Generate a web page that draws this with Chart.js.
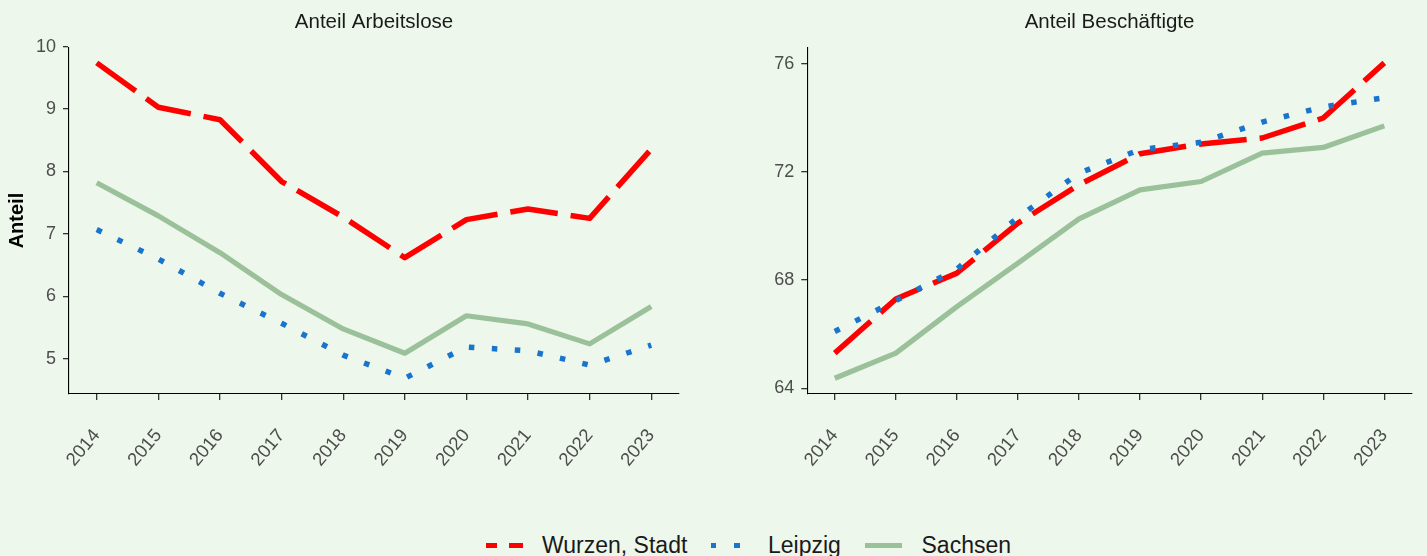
<!DOCTYPE html>
<html><head><meta charset="utf-8">
<script src="https://cdn.jsdelivr.net/npm/chart.js@4.4.1/dist/chart.umd.min.js"></script>
<style>
html,body{margin:0;padding:0;background:#EEF7EB;}
body{width:1427px;height:556px;position:relative;overflow:hidden;font-family:"Liberation Sans",Arial,sans-serif;}
#w1{position:absolute;left:0;top:0;width:700px;height:500px;}
#w2{position:absolute;left:718px;top:0;width:709px;height:500px;}
.key{position:absolute;top:543px;height:5px;}
.lbl{position:absolute;top:534px;font-size:23px;line-height:23px;color:#1a1a1a;white-space:nowrap;}
</style>
</head><body>
<div id="w1"><canvas id="c1"></canvas></div>
<div id="w2"><canvas id="c2"></canvas></div>
<div id="legend"></div>
<script>
const years = [2014,2015,2016,2017,2018,2019,2020,2021,2022,2023];
const seriesNames = ['Wurzen, Stadt','Leipzig','Sachsen'];
const arbWurzen  = [9.74,9.03,8.83,7.84,7.27,6.62,7.23,7.40,7.25,8.36];
const arbLeipzig = [7.07,6.60,6.05,5.57,5.06,4.69,5.19,5.13,4.90,5.22];
const arbSachsen = [7.82,7.29,6.70,6.03,5.48,5.09,5.69,5.56,5.24,5.84];
const besWurzen  = [65.30,67.30,68.26,70.11,71.53,72.68,73.04,73.26,74.00,76.04];
const besLeipzig = [66.10,67.24,68.41,70.32,71.96,72.83,73.10,73.85,74.41,74.75];
const besSachsen = [64.37,65.30,67.02,68.63,70.27,71.34,71.65,72.70,72.91,73.71];
const arbTicks = [5,6,7,8,9,10];
const besTicks = [64,68,72,76];
const panelTitles = ['Anteil Arbeitslose','Anteil Beschäftigte'];
const yAxisTitle = 'Anteil';

const FONT = '"Liberation Sans", Arial, sans-serif';
const colors = ['#FF0000','#1874CD','#9BC19A'];
const dashes = [[48,13],[5.5,17.5],[]];
const widths = [5.5,5.5,5.2];
const orders = [3,2,1];

function expand(vals, f){
  const mn = Math.min(...vals), mx = Math.max(...vals), r = mx - mn;
  return [mn - r*f, mx + r*f];
}
function makeDatasets(series){
  return series.map((vals,i)=>({
    label: seriesNames[i],
    data: years.map((yr,j)=>({x:yr, y:vals[j]})),
    borderColor: colors[i],
    borderWidth: widths[i],
    borderDash: dashes[i],
    borderCapStyle: 'butt',
    borderJoinStyle: 'round',
    pointRadius: 0,
    tension: 0,
    fill: false,
    order: orders[i]
  }));
}
function makeChart(id, series, ticksY, title, yW, padRight, showYTitle){
  const all = [].concat(...series);
  const [ymin, ymax] = expand(all, 0.05);
  const [xmin, xmax] = expand(years, 0.05);
  return new Chart(document.getElementById(id), {
    type: 'line',
    data: { datasets: makeDatasets(series) },
    options: {
      responsive: true, maintainAspectRatio: false, animation: false,
      layout: { padding: { left: 0, right: padRight, top: 0, bottom: 0 } },
      plugins: {
        legend: { display: false },
        tooltip: { enabled: false },
        title: { display: true, text: title, fullSize: false, color: '#1a1a1a',
                 font: { family: FONT, size: 20.5, weight: 'normal' }, padding: { top: 10, bottom: 12.5 } }
      },
      scales: {
        x: {
          type: 'linear', min: xmin, max: xmax,
          afterBuildTicks: ax => { ax.ticks = years.map(v => ({ value: v })); },
          afterFit: ax => { ax.height = 106; },
          ticks: { autoSkip: false, minRotation: 50, maxRotation: 50, color: '#4D4D4D',
                   font: { family: FONT, size: 18.5 }, padding: 25,
                   callback: v => String(v) },
          grid: { drawOnChartArea: false, drawTicks: true, tickLength: 6, color: '#333333', lineWidth: 1.3 },
          border: { display: true, color: '#000000', width: 1.1 }
        },
        y: {
          min: ymin, max: ymax,
          afterBuildTicks: ax => { ax.ticks = ticksY.map(v => ({ value: v })); },
          afterFit: ax => { ax.width = yW; },
          ticks: { color: '#4D4D4D', font: { family: FONT, size: 18 }, padding: 7, callback: v => String(v) },
          grid: { drawOnChartArea: false, drawTicks: true, tickLength: 6, color: '#333333', lineWidth: 1.3 },
          border: { display: true, color: '#000000', width: 1.1 },
          title: { display: showYTitle, text: yAxisTitle, color: '#000000',
                   font: { family: FONT, size: 20, weight: 'bold' }, padding: { top: 5, bottom: 0 } }
        }
      }
    }
  });
}
makeChart('c1', [arbWurzen, arbLeipzig, arbSachsen], arbTicks, panelTitles[0], 69, 21, true);
makeChart('c2', [besWurzen, besLeipzig, besSachsen], besTicks, panelTitles[1], 89.3, 11, false);

// legend
const legend = document.getElementById('legend');
const keyStyles = [
  {left:486, width:37, bg:`linear-gradient(to right, ${colors[0]} 0 11px, transparent 11px 23px, ${colors[0]} 23px 37px)`},
  {left:710.5, width:29, bg:`linear-gradient(to right, ${colors[1]} 0 5px, transparent 5px 23.5px, ${colors[1]} 23.5px 29px)`},
  {left:865, width:37, bg:colors[2]}
];
const labelLeft = [542, 768, 921.5];
seriesNames.forEach((n,i)=>{
  const k = document.createElement('span');
  k.className = 'key';
  k.style.left = keyStyles[i].left + 'px';
  k.style.width = keyStyles[i].width + 'px';
  k.style.background = keyStyles[i].bg;
  legend.appendChild(k);
  const l = document.createElement('span');
  l.className = 'lbl';
  l.style.left = labelLeft[i] + 'px';
  l.textContent = n;
  legend.appendChild(l);
});
</script>
</body></html>
